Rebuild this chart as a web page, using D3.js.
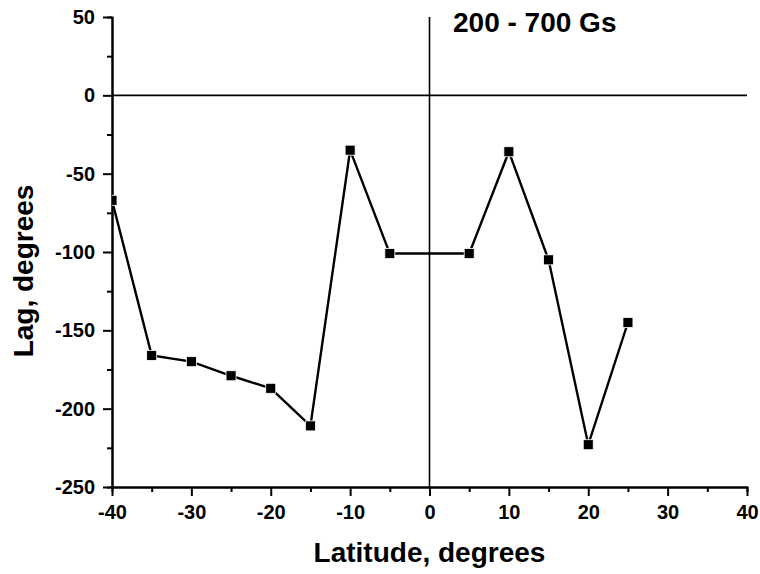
<!DOCTYPE html>
<html>
<head>
<meta charset="utf-8">
<script src="https://cdn.jsdelivr.net/npm/d3@7"></script>
<style>
  body { margin: 0; background: #fff; }
  svg { display: block; font-family: "Liberation Sans", Arial, sans-serif; }
</style>
</head>
<body>
<svg id="lag_plot" width="760" height="574"></svg>
<script>
// Data
const latitude = [-40, -35, -30, -25, -20, -15, -10, -5, 5, 10, 15, 20, 25];
const lag = [-67, -166, -170, -179, -187, -211, -35, -101, -101, -36, -105, -223, -145];

const xMajorTicks = [-40, -30, -20, -10, 0, 10, 20, 30, 40];
const xMinorTicks = [-35, -25, -15, -5, 5, 15, 25, 35];
const yMajorTicks = [-250, -200, -150, -100, -50, 0, 50];
const yMinorTicks = [-225, -175, -125, -75, -25, 25];

const panelLabel = '200 - 700 Gs';
const xTitle = 'Latitude, degrees';
const yTitle = 'Lag, degrees';

const svg = d3.select('#lag_plot');
const width = 760, height = 574;
const margin = { top: 17, left: 112, right: 13, bottom: 87 };
const inner_width = width - margin.left - margin.right;
const inner_height = height - margin.top - margin.bottom;

const xScale = d3.scaleLinear().domain([-40, 40]).range([0, inner_width]);
const yScale = d3.scaleLinear().domain([-250, 50]).range([inner_height, 0]);

const g = svg.append('g').attr('transform', `translate(${margin.left},${margin.top})`);

// clip so the first marker is cut at the axis like the original
g.append('clipPath').attr('id', 'plot_clip')
  .append('rect').attr('width', inner_width).attr('height', inner_height);

// zero lines
g.append('line')
  .attr('x1', 0).attr('x2', inner_width)
  .attr('y1', yScale(0)).attr('y2', yScale(0))
  .attr('stroke', '#000').attr('stroke-width', 1.6);
g.append('line')
  .attr('x1', xScale(0)).attr('x2', xScale(0))
  .attr('y1', 0).attr('y2', inner_height)
  .attr('stroke', '#000').attr('stroke-width', 1.6);

// plain hyphen for negatives, as in the original
const fmt = d => String(d);

const styleAxis = sel => {
  sel.attr('font-family', '"Liberation Sans", Arial, sans-serif');
  sel.select('.domain').attr('stroke-width', 2);
  sel.selectAll('.tick line').attr('stroke-width', 2);
  sel.selectAll('text').attr('font-size', 20).attr('font-weight', 'bold').attr('fill', '#000');
};

// minor ticks first, then major ticks with labels
g.append('g')
  .attr('transform', `translate(0,${inner_height})`)
  .call(d3.axisBottom(xScale).tickValues(xMinorTicks).tickSize(5).tickFormat(''))
  .call(styleAxis);
g.append('g')
  .attr('transform', `translate(0,${inner_height})`)
  .call(d3.axisBottom(xScale).tickValues(xMajorTicks).tickSize(9).tickSizeOuter(0).tickPadding(9).tickFormat(fmt))
  .call(styleAxis);

g.append('g')
  .call(d3.axisLeft(yScale).tickValues(yMinorTicks).tickSize(5).tickFormat(''))
  .call(styleAxis);
g.append('g')
  .call(d3.axisLeft(yScale).tickValues(yMajorTicks).tickSize(9).tickSizeOuter(0).tickPadding(8).tickFormat(fmt))
  .call(styleAxis);

// the data line and square markers
const points = latitude.map((d, i) => ({ lat: d, lag: lag[i] }));
const line = d3.line().x(d => xScale(d.lat)).y(d => yScale(d.lag));

const plot = g.append('g').attr('clip-path', 'url(#plot_clip)');
plot.append('path')
  .datum(points)
  .attr('d', line)
  .attr('fill', 'none')
  .attr('stroke', '#000')
  .attr('stroke-width', 2.4);

const ms = 10;
plot.selectAll('rect.marker')
  .data(points)
  .join('rect')
  .attr('class', 'marker')
  .attr('x', d => xScale(d.lat) - ms / 2)
  .attr('y', d => yScale(d.lag) - ms / 2)
  .attr('width', ms)
  .attr('height', ms)
  .attr('fill', '#000')
  .attr('stroke', '#fff')
  .attr('stroke-width', 0.8);

// labels
svg.append('text')
  .attr('x', 453).attr('y', 32)
  .attr('font-size', 28).attr('font-weight', 'bold')
  .text(panelLabel);

svg.append('text')
  .attr('x', margin.left + xScale(0)).attr('y', 562)
  .attr('text-anchor', 'middle')
  .attr('font-size', 28).attr('font-weight', 'bold')
  .text(xTitle);

svg.append('text')
  .attr('transform', 'translate(33,271) rotate(-90)')
  .attr('text-anchor', 'middle')
  .attr('font-size', 28).attr('font-weight', 'bold')
  .text(yTitle);
</script>
</body>
</html>
